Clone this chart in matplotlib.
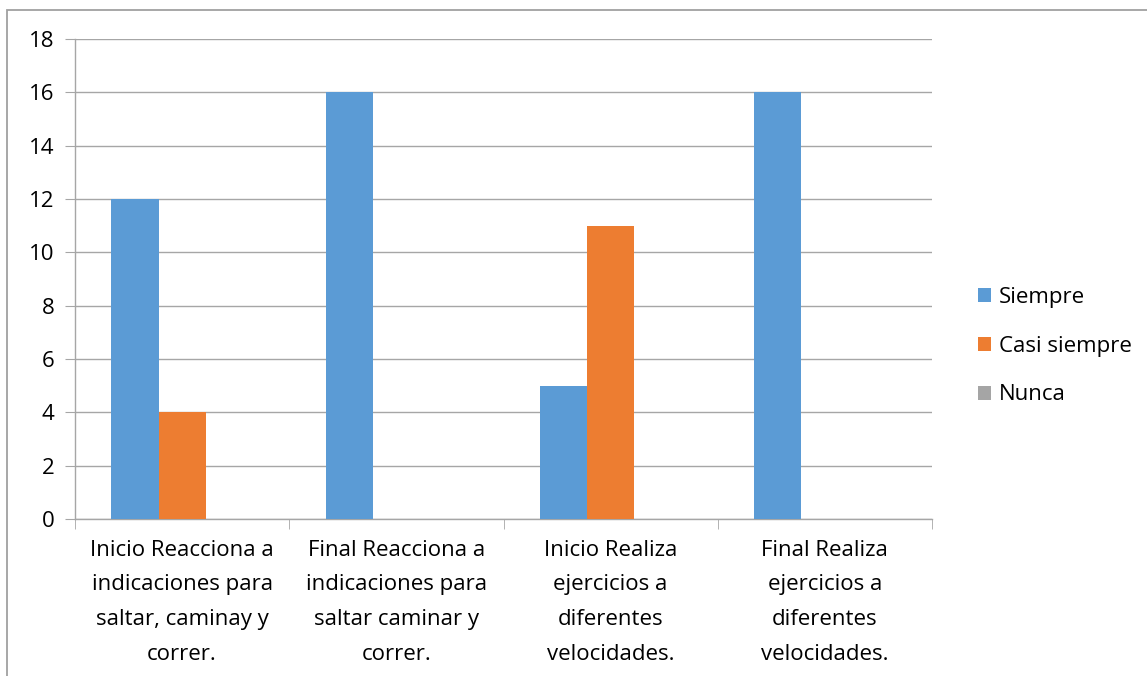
import matplotlib.pyplot as plt
import numpy as np
from matplotlib.patches import Rectangle

categories = [
    "Inicio Reacciona a\nindicaciones para\nsaltar, caminay y\ncorrer.",
    "Final Reacciona a\nindicaciones para\nsaltar caminar y\ncorrer.",
    "Inicio Realiza\nejercicios a\ndiferentes\nvelocidades.",
    "Final Realiza\nejercicios a\ndiferentes\nvelocidades.",
]
series_names = ["Siempre", "Casi siempre", "Nunca"]
siempre = [12, 16, 5, 16]
casi_siempre = [4, 0, 11, 0]
nunca = [0, 0, 0, 0]
colors = ["#5B9BD5", "#ED7D31", "#A5A5A5"]

plt.rcParams['font.family'] = ['Open Sans', 'DejaVu Sans']
fs = 16

fig = plt.figure(figsize=(11.47, 6.76), dpi=100)
# outer chart border (cropped at right and bottom)
fig.patches.append(Rectangle((7 / 1147, -0.1), 1.2, 1 - 10 / 676 + 0.1,
                             transform=fig.transFigure, fill=False,
                             edgecolor="#a0a0a0", linewidth=1.3))

ax = fig.add_axes([75 / 1147, 1 - 519 / 676, (932 - 75) / 1147, (519 - 39) / 676])

x = np.arange(len(categories))
w = 0.22
for i, (vals, name) in enumerate(zip([siempre, casi_siempre, nunca], series_names)):
    ax.bar(x + (i - 1) * w, vals, width=w, color=colors[i], label=name, zorder=3)

ax.set_xlim(-0.5, len(categories) - 0.5)
ax.set_ylim(0, 18)
ax.set_yticks(range(0, 19, 2))
ax.yaxis.grid(True, color="#a6a6a6", linewidth=1.0, zorder=0)

for s in ["top", "right"]:
    ax.spines[s].set_visible(False)
for s in ["left", "bottom"]:
    ax.spines[s].set_color("#a6a6a6")
    ax.spines[s].set_linewidth(1.0)

ax.set_xticks(x)
ax.set_xticklabels(categories, fontsize=fs, linespacing=1.85)
ax.tick_params(axis="x", length=0, pad=15)
ax.set_xticks(np.arange(-0.5, len(categories), 1), minor=True)
ax.tick_params(axis="x", which="minor", length=7, color="#a6a6a6", direction="out")
ax.tick_params(axis="y", length=7, color="#a6a6a6", labelsize=fs, pad=8)

ax.legend(loc="center left", bbox_to_anchor=(1.03, 0.36), frameon=False,
          fontsize=fs, handlelength=0.6, handleheight=0.6, handletextpad=0.35,
          labelspacing=1.25)

fig.savefig("out.png", dpi=100)
